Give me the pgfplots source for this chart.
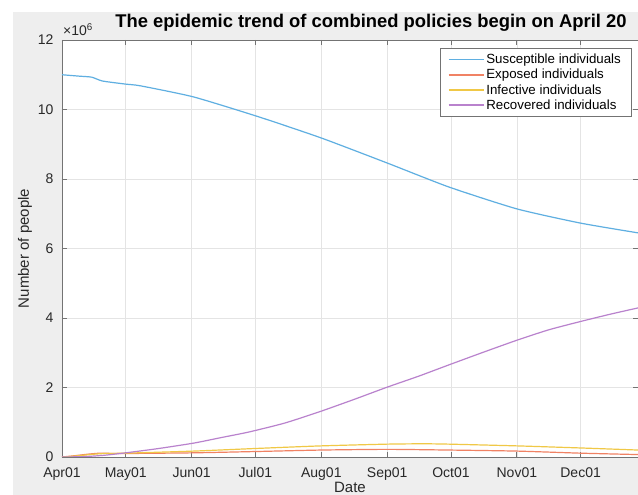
\documentclass[border=0pt]{standalone}
\usepackage{pgfplots}
\pgfplotsset{compat=1.18}
\usepackage{fontspec}
\setmainfont{Liberation Sans}
\definecolor{bgc}{RGB}{238,238,238}
\definecolor{axc}{RGB}{115,115,115}
\definecolor{gridc}{RGB}{228,228,228}
\definecolor{txc}{RGB}{40,40,40}
\definecolor{cS}{RGB}{95,175,225}
\definecolor{cE}{RGB}{240,130,100}
\definecolor{cI}{RGB}{240,200,70}
\definecolor{cR}{RGB}{185,130,205}
\begin{document}
\begin{tikzpicture}[x=1pt,y=1pt]
\path[use as bounding box] (0,0) rectangle (638,495);
\fill[bgc] (13,0) rectangle (638,483);
\begin{axis}[
  at={(62pt,38pt)}, anchor=south west,
  width=576pt, height=417pt, scale only axis,
  xmin=0, xmax=271, ymin=0, ymax=12e6,
  axis background/.style={fill=white},
  axis line style={axc, line width=0.8pt},
  xtick={0,30,61,91,122,153,183,214,244},
  xticklabels={Apr01,May01,Jun01,Jul01,Aug01,Sep01,Oct01,Nov01,Dec01},
  ytick={0,2e6,4e6,6e6,8e6,10e6,12e6},
  yticklabels={0,2,4,6,8,10,12},
  scaled y ticks=false,
  tick align=inside,
  major tick length=5pt,
  tick style={axc, line width=0.8pt},
  grid=major,
  major grid style={gridc, line width=0.6pt},
  ticklabel style={font=\fontsize{14}{14}\selectfont, text=txc},
  xticklabel style={yshift=-7pt},
  yticklabel style={xshift=-5pt},
  xlabel={Date},
  ylabel={Number of people},
  label style={font=\fontsize{15}{15}\selectfont, text=txc},
  xlabel style={yshift=5pt},
  ylabel style={yshift=-1pt},
  legend cell align=left,
  legend image code/.code={\draw[#1, line width=1.5pt] (0pt,0pt) -- (35pt,0pt);},
  legend style={at={(0.988,0.981)}, anchor=north east, draw=axc,
    font=\fontsize{13.3}{13.3}\selectfont,
    row sep=0pt, inner xsep=8pt, inner ysep=4pt},
]
\addplot[cS, line width=1.2pt, smooth, tension=0.35] coordinates {
(0,11.00e6) (8,10.96e6) (14,10.93e6) (19,10.82e6) (30,10.73e6) (37,10.68e6)
(62,10.36e6) (93,9.78e6) (122,9.18e6) (153,8.46e6) (182,7.77e6)
(214,7.14e6) (244,6.73e6) (271,6.45e6)};
\addlegendentry{Susceptible individuals}
\addplot[cE, line width=1.2pt, smooth, tension=0.35] coordinates {
(0,0) (5,0.03e6) (12,0.08e6) (18,0.11e6) (25,0.10e6) (30,0.10e6) (62,0.12e6)
(93,0.16e6) (122,0.20e6) (153,0.22e6) (182,0.20e6) (214,0.17e6) (244,0.11e6) (271,0.07e6)};
\addlegendentry{Exposed individuals}
\addplot[cI, line width=1.2pt, smooth, tension=0.35] coordinates {
(0,0) (5,0.02e6) (15,0.08e6) (20,0.10e6) (30,0.11e6) (62,0.17e6) (93,0.25e6)
(122,0.32e6) (153,0.37e6) (170,0.38e6) (182,0.37e6) (214,0.32e6) (244,0.26e6) (271,0.20e6)};
\addlegendentry{Infective individuals}
\addplot[cR, line width=1.2pt, smooth, tension=0.35] coordinates {
(0,0) (10,0.01e6) (20,0.05e6) (30,0.12e6) (45,0.24e6) (62,0.40e6) (75,0.56e6)
(88,0.72e6) (105,0.98e6) (122,1.32e6) (138,1.67e6) (153,2.01e6) (168,2.33e6)
(182,2.65e6) (198,3.01e6) (214,3.36e6) (229,3.66e6) (244,3.90e6) (258,4.11e6) (271,4.29e6)};
\addlegendentry{Recovered individuals}
\end{axis}
\node[anchor=base west, inner sep=0pt, font=\fontsize{14}{14}\selectfont, text=txc]
  at (63,459) {×10\textsuperscript{6}};
\node[font=\fontsize{18.4}{18.4}\selectfont\bfseries, inner sep=0pt] at (371,472) {The epidemic trend of combined policies begin on April 20};
\end{tikzpicture}
\end{document}
